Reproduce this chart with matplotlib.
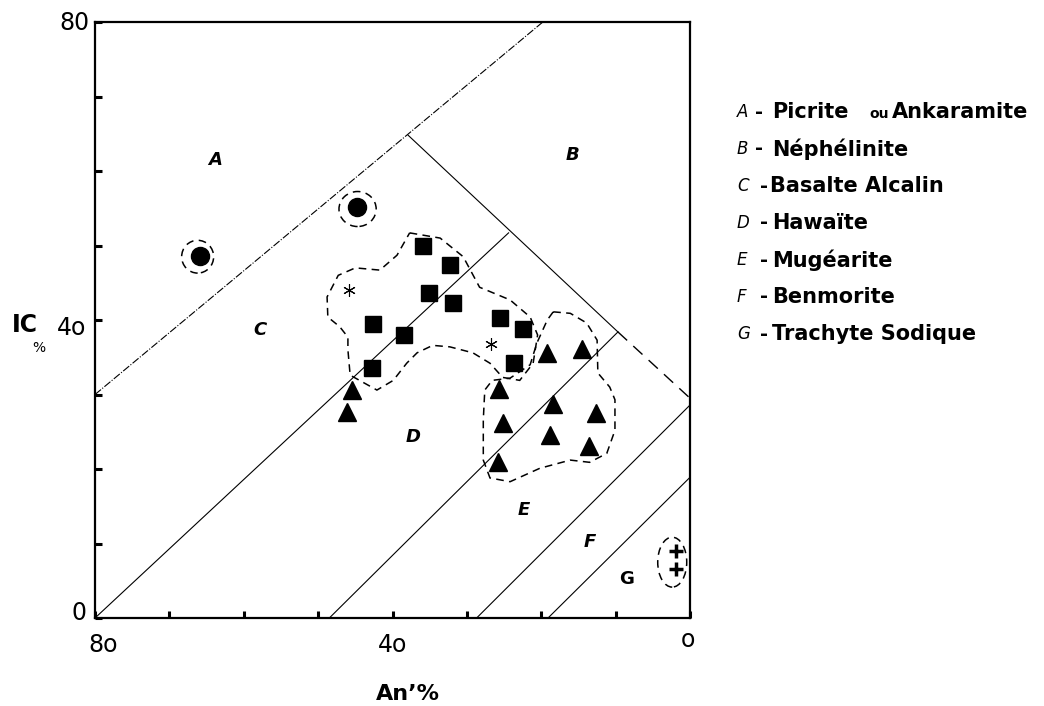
import numpy as np
import matplotlib
matplotlib.use("Agg")
import matplotlib.pyplot as plt
from matplotlib.patches import Ellipse, Polygon

plt.rcParams["font.family"] = ["DejaVu Sans"]

# --- analyses (An %, IC %) ---
circle_an = [65.9, 44.8]
circle_ic = [48.6, 55.2]

square_an = [35.9, 32.3, 35.1, 31.9, 42.6, 38.5, 25.6, 22.5, 42.8, 23.7]
square_ic = [49.9, 47.4, 43.6, 42.3, 39.5, 38.0, 40.3, 38.8, 33.6, 34.2]

star_an = [45.9, 26.8]
star_ic = [44.0, 36.8]

tri_an = [45.5, 46.1, 25.7, 25.2, 25.8, 19.2, 14.5, 18.4, 12.7, 18.8, 13.6]
tri_ic = [30.6, 27.7, 30.7, 26.2, 20.9, 35.6, 36.1, 28.7, 27.5, 24.6, 23.1]

cross_an = [1.9, 1.9]
cross_ic = [9.0, 6.6]

# --- field boundaries ---
line_ac = ([80, 19.8], [30, 80])
line_cd = ([80, 24.4], [0, 51.7])
line_b = ([37.9, 9.7], [64.8, 38.4])
line_b_dash = ([9.7, 0], [38.4, 29.5])
line_de = ([48.5, 9.7], [0, 38.4])
line_ef = ([28.7, 0], [0, 28.6])
line_fg = ([19.1, 0], [0, 18.9])

# --- dashed groupings ---
env_sq_an = [37.7, 33.6, 30.5, 28.3, 24.2, 21.5, 20.5, 21.1, 22.9, 25.2, 26.9,
             29.2, 32.3, 34.6, 36.7, 38.1, 39.9, 42.1, 45.7, 46.0, 46.0, 47.1,
             48.7, 48.8, 47.3, 45.0, 41.7, 39.4]
env_sq_ic = [51.7, 51.0, 48.5, 44.4, 42.7, 40.4, 38.0, 34.2, 31.9, 32.3, 34.2,
             35.6, 36.4, 36.6, 35.6, 34.2, 31.9, 30.6, 32.6, 36.0, 37.7, 39.1,
             40.4, 43.1, 46.0, 47.0, 46.7, 48.7]

env_tri_an = [18.4, 16.1, 13.9, 12.5, 12.4, 10.8, 10.1, 10.1, 11.2, 13.5, 16.1,
              20.2, 24.2, 26.9, 27.8, 27.8, 27.6, 26.6, 24.2, 21.5, 20.6, 19.2]
env_tri_ic = [41.1, 40.9, 39.6, 37.3, 32.9, 31.0, 29.3, 25.2, 22.1, 20.9, 21.2,
              20.1, 18.3, 18.8, 21.2, 26.6, 30.6, 31.9, 32.2, 34.0, 36.9, 40.0]

# (centre An, centre IC, width, height)
small_envs = [(66.2, 48.5, 4.3, 4.4), (44.7, 54.9, 5.0, 4.7), (2.4, 7.5, 3.9, 6.7)]

# --- field letters ---
field_names = ["A", "B", "C", "D", "E", "F", "G"]
field_an = [63.9, 15.8, 57.8, 37.3, 22.3, 13.5, 8.6]
field_ic = [61.5, 62.1, 38.7, 24.3, 14.5, 10.2, 5.2]
field_style = ["italic", "italic", "italic", "italic", "italic", "italic", "normal"]

legend_letters = ["A", "B", "C", "D", "E", "F", "G"]
legend_names = ["Picrite ou Ankaramite", "Néphélinite", "Basalte Alcalin",
                "Hawaïte", "Mugéarite", "Benmorite", "Trachyte Sodique"]

fig = plt.figure(figsize=(10.44, 7.06), dpi=100)
ax = fig.add_axes([0.091, 0.1246, 0.570, 0.8442])

thin = dict(color="black", lw=0.8)
ax.plot(*line_ac, linestyle=(0, (7, 1.5, 1, 1.5)), **thin)
ax.plot(*line_cd, **thin)
ax.plot(*line_b, **thin)
ax.plot(*line_b_dash, linestyle=(0, (9, 6)), color="black", lw=1.0)
ax.plot(*line_de, **thin)
ax.plot(*line_ef, **thin)
ax.plot(*line_fg, **thin)

dash = dict(fill=False, edgecolor="black", lw=1.1, linestyle=(0, (5, 3.5)))
ax.add_patch(Polygon(np.column_stack([env_sq_an, env_sq_ic]), closed=True, **dash))
ax.add_patch(Polygon(np.column_stack([env_tri_an, env_tri_ic]), closed=True, **dash))
for xc, yc, w, h in small_envs:
    ax.add_patch(Ellipse((xc, yc), w, h, **dash))

ax.plot(circle_an, circle_ic, "o", color="black", ms=13, ls="none")
ax.plot(square_an, square_ic, "s", color="black", ms=12, ls="none")
ax.plot(tri_an, tri_ic, "^", color="black", ms=13, ls="none")
ax.plot(star_an, star_ic, marker=(6, 2, 0), color="black", ms=9, mew=0.8, ls="none")
ax.plot(cross_an, cross_ic, "+", color="black", ms=10, mew=2.5, ls="none")

for name, xa, ya, st in zip(field_names, field_an, field_ic, field_style):
    ax.text(xa, ya, name, fontsize=13, style=st, ha="center", va="center",
            fontweight="bold")

ax.set_xlim(80, 0)
ax.set_ylim(0, 80)
ax.set_xticks(np.arange(0, 81, 10))
ax.set_yticks(np.arange(0, 81, 10))
ax.set_xticklabels([])
ax.set_yticklabels([])
ax.tick_params(direction="in", length=5, width=2.2, top=False, right=False)
for sp in ax.spines.values():
    sp.set_linewidth(1.6)

# axis numbers
def px(x, y):
    return x / 1044, 1 - y / 706

for lab, (x, y) in [("8o", (103, 645)), ("4o", (393, 645)), ("o", (688, 640))]:
    fig.text(*px(x, y), lab, fontsize=17, ha="center", va="center")
for lab, (x, y) in [("80", (74, 23)), ("4o", (72, 328)), ("0", (79, 613))]:
    fig.text(*px(x, y), lab, fontsize=17, ha="center", va="center")

fig.text(*px(408, 694), "An’%", fontsize=16, fontweight="bold", ha="center", va="center")
fig.text(*px(25, 325), "IC", fontsize=17, fontweight="bold", ha="center", va="center")
fig.text(*px(39, 348), "%", fontsize=10, ha="center", va="center")

name_x = [772, 772, 770, 772, 772, 772, 772]
dash_x = [755, 755, 760, 760, 760, 760, 760]
for i, (let, name) in enumerate(zip(legend_letters, legend_names)):
    y = 112 + i * 37
    fig.text(*px(737, y), let, fontsize=12, style="italic", ha="left", va="center")
    fig.text(*px(dash_x[i], y), "-", fontsize=14, fontweight="bold", ha="left", va="center")
    if name.startswith("Picrite"):
        fig.text(*px(name_x[i], y), "Picrite", fontsize=15, fontweight="bold",
                 ha="left", va="center")
        fig.text(*px(869, y + 2), "ou", fontsize=10, fontweight="bold",
                 ha="left", va="center")
        fig.text(*px(892, y), "Ankaramite", fontsize=15, fontweight="bold",
                 ha="left", va="center")
    else:
        fig.text(*px(name_x[i], y), name, fontsize=15, fontweight="bold",
                 ha="left", va="center")

fig.savefig("out.png", dpi=100)
